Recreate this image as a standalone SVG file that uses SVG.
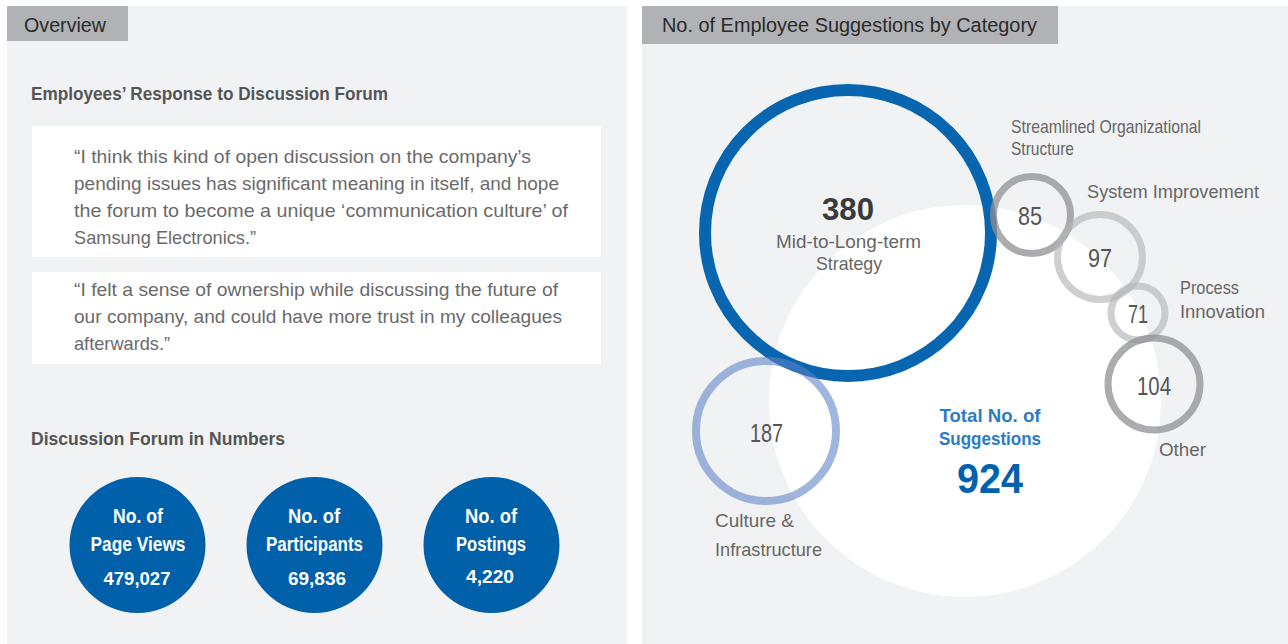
<svg xmlns="http://www.w3.org/2000/svg" width="1288" height="644" viewBox="0 0 1288 644">
<style>
text{font-family:"Liberation Sans",Arial,sans-serif}
.panel{fill:#f1f2f4}
.hdr{fill:#b1b2b6}
.hdrt{font-size:19.5px;fill:#2a2a2a}
.sec{font-size:19px;font-weight:bold;fill:#555}
.quote{fill:#fff}
.qt{font-size:19px;fill:#6a6a6a}
.stat{fill:#0060a9}
.statt{font-size:20px;font-weight:bold;fill:#fff;text-anchor:middle}
.statn{font-size:18px;font-weight:bold;fill:#fff;text-anchor:middle}
.num{font-size:25px;fill:#555;text-anchor:middle}
.lbl{font-size:19px;fill:#666}
.ringd{fill:none;stroke:#8e9095;stroke-opacity:0.75;stroke-width:7}
.ringl{fill:none;stroke:#b4b5b8;stroke-opacity:0.65;stroke-width:7}
</style>
<rect width="1288" height="644" fill="#fff"/>
<g id="overview-panel">
<rect class="panel" x="7" y="6" width="620" height="638"/>
<rect class="hdr" x="7" y="6" width="121" height="35"/>
<text class="hdrt" x="24" y="32" textLength="82" lengthAdjust="spacingAndGlyphs">Overview</text>
<text class="sec" x="31" y="100" textLength="357" lengthAdjust="spacingAndGlyphs">Employees’ Response to Discussion Forum</text>
</g>
<g id="quote-1">
<rect class="quote" x="32" y="126" width="569" height="131"/>
<text class="qt" x="74" y="163" textLength="457" lengthAdjust="spacingAndGlyphs">“I think this kind of open discussion on the company’s</text>
<text class="qt" x="74" y="190" textLength="485" lengthAdjust="spacingAndGlyphs">pending issues has significant meaning in itself, and hope</text>
<text class="qt" x="74" y="217" textLength="494" lengthAdjust="spacingAndGlyphs">the forum to become a unique ‘communication culture’ of</text>
<text class="qt" x="74" y="244" textLength="182" lengthAdjust="spacingAndGlyphs">Samsung Electronics.”</text>
</g>
<g id="quote-2">
<rect class="quote" x="32" y="272" width="569" height="92"/>
<text class="qt" x="74" y="296" textLength="484" lengthAdjust="spacingAndGlyphs">“I felt a sense of ownership while discussing the future of</text>
<text class="qt" x="74" y="323" textLength="488" lengthAdjust="spacingAndGlyphs">our company, and could have more trust in my colleagues</text>
<text class="qt" x="74" y="350" textLength="96" lengthAdjust="spacingAndGlyphs">afterwards.”</text>
</g>
<g id="numbers-title">
<text class="sec" x="31" y="445" textLength="254" lengthAdjust="spacingAndGlyphs">Discussion Forum in Numbers</text>
</g>
<g id="stat-page-views">
<circle class="stat" cx="137.5" cy="545" r="68"/>
<text class="statt" x="138" y="523" textLength="50" lengthAdjust="spacingAndGlyphs">No. of</text>
<text class="statt" x="138" y="551" textLength="95" lengthAdjust="spacingAndGlyphs">Page Views</text>
<text class="statn" x="137" y="585" textLength="67" lengthAdjust="spacingAndGlyphs">479,027</text>
</g>
<g id="stat-participants">
<circle class="stat" cx="314.5" cy="545" r="68"/>
<text class="statt" x="314" y="523" textLength="52" lengthAdjust="spacingAndGlyphs">No. of</text>
<text class="statt" x="314.5" y="551" textLength="97" lengthAdjust="spacingAndGlyphs">Participants</text>
<text class="statn" x="317" y="585" textLength="58" lengthAdjust="spacingAndGlyphs">69,836</text>
</g>
<g id="stat-postings">
<circle class="stat" cx="491.5" cy="545" r="68"/>
<text class="statt" x="491" y="523" textLength="52" lengthAdjust="spacingAndGlyphs">No. of</text>
<text class="statt" x="491" y="551" textLength="70" lengthAdjust="spacingAndGlyphs">Postings</text>
<text class="statn" x="490" y="583" textLength="48" lengthAdjust="spacingAndGlyphs">4,220</text>
</g>
<g id="suggestions-panel">
<rect class="panel" x="642" y="6" width="646" height="638"/>
<rect class="hdr" x="642" y="6" width="416" height="38"/>
<text class="hdrt" x="662" y="32" textLength="375" lengthAdjust="spacingAndGlyphs">No. of Employee Suggestions by Category</text>
</g>
<g id="total">
<circle cx="965" cy="401" r="196" fill="#fff"/>
<text x="990" y="422" text-anchor="middle" font-size="19" font-weight="bold" fill="#2b7bc6" textLength="101" lengthAdjust="spacingAndGlyphs">Total No. of</text>
<text x="990" y="445" text-anchor="middle" font-size="19" font-weight="bold" fill="#2b7bc6" textLength="102" lengthAdjust="spacingAndGlyphs">Suggestions</text>
<text x="990" y="493" text-anchor="middle" font-size="42" font-weight="bold" fill="#0062ae" textLength="66" lengthAdjust="spacingAndGlyphs">924</text>
</g>
<g id="mid-long-term">
<circle cx="848" cy="233" r="143" fill="none" stroke="#0060ad" stroke-opacity="0.97" stroke-width="12"/>
<text x="848" y="220" text-anchor="middle" font-size="32" font-weight="bold" fill="#3a3a3a" textLength="52" lengthAdjust="spacingAndGlyphs">380</text>
<text x="848.5" y="248" text-anchor="middle" class="lbl" textLength="145" lengthAdjust="spacingAndGlyphs">Mid-to-Long-term</text>
<text x="849" y="270" text-anchor="middle" class="lbl" textLength="66" lengthAdjust="spacingAndGlyphs">Strategy</text>
</g>
<g id="culture">
<circle cx="766" cy="431" r="70" fill="none" stroke="#5d81c8" stroke-opacity="0.58" stroke-width="8"/>
<text class="num" x="766.5" y="442" textLength="33" lengthAdjust="spacingAndGlyphs">187</text>
<text class="lbl" x="715" y="527" textLength="79" lengthAdjust="spacingAndGlyphs">Culture &amp;</text>
<text class="lbl" x="715" y="556" textLength="107" lengthAdjust="spacingAndGlyphs">Infrastructure</text>
</g>
<g id="streamlined">
<circle class="ringd" cx="1032" cy="215" r="38.5"/>
<text class="num" x="1030" y="225" textLength="24" lengthAdjust="spacingAndGlyphs">85</text>
<text class="lbl" x="1011" y="133" textLength="190" lengthAdjust="spacingAndGlyphs">Streamlined Organizational</text>
<text class="lbl" x="1011" y="155" textLength="63" lengthAdjust="spacingAndGlyphs">Structure</text>
</g>
<g id="system">
<circle class="ringl" cx="1100" cy="257" r="42.5"/>
<text class="num" x="1100" y="267" textLength="24" lengthAdjust="spacingAndGlyphs">97</text>
<text class="lbl" x="1087" y="198" textLength="172" lengthAdjust="spacingAndGlyphs">System Improvement</text>
</g>
<g id="process">
<circle class="ringl" cx="1138" cy="313" r="27"/>
<text class="num" x="1138" y="323" textLength="20" lengthAdjust="spacingAndGlyphs">71</text>
<text class="lbl" x="1180" y="294" textLength="59" lengthAdjust="spacingAndGlyphs">Process</text>
<text class="lbl" x="1180" y="318" textLength="85" lengthAdjust="spacingAndGlyphs">Innovation</text>
</g>
<g id="other">
<circle class="ringd" cx="1154" cy="384" r="46"/>
<text class="num" x="1154" y="395" textLength="34" lengthAdjust="spacingAndGlyphs">104</text>
<text class="lbl" x="1159" y="456" textLength="47" lengthAdjust="spacingAndGlyphs">Other</text>
</g>
<g id="connectors"/>
</svg>
